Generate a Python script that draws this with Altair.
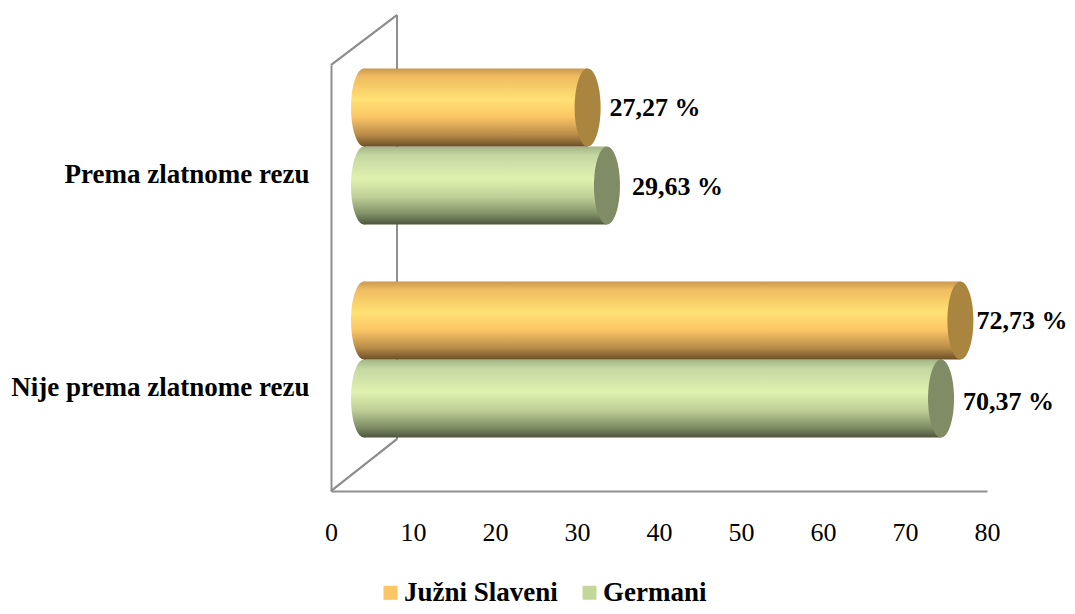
import altair as alt
import pandas as pd

categories = ["Prema zlatnome rezu", "Nije prema zlatnome rezu"]
south_slavs = [27.27, 72.73]
germanic = [29.63, 70.37]
south_labels = ["27,27 %", "72,73 %"]
germanic_labels = ["29,63 %", "70,37 %"]
series_names = ["Južni Slaveni", "Germani"]
legend_colors = ["#fcc566", "#c4d79b"]
x_ticks = [0, 10, 20, 30, 40, 50, 60, 70, 80]

FONT = "Liberation Serif"
GRAY = "#8f8f8f"
ELLIPSE = "M0,-1 A0.3333,1 0 1 1 0,1 A0.3333,1 0 1 1 0,-1 Z"
DEPTH_X = 33
BAR_H = 78


def gradient(stops):
    return alt.Gradient(
        gradient="linear", x1=0, x2=0, y1=0, y2=1,
        stops=[alt.GradientStop(offset=o, color=c) for o, c in stops],
    )


orange_grad = gradient([(0, "#c79a50"), (0.1, "#f0bb60"), (0.4, "#ffe173"), (0.62, "#fcc666"),
                        (0.85, "#b98c48"), (1, "#6b4f26")])
green_grad = gradient([(0, "#a3b585"), (0.12, "#c6d8a2"), (0.42, "#dff2af"), (0.65, "#bfcf97"),
                       (0.87, "#7f8e65"), (1, "#4c563c")])

df_o = pd.DataFrame({"cat": categories, "val": south_slavs, "lab": south_labels, "zero": [0, 0]})
df_g = pd.DataFrame({"cat": categories, "val": germanic, "lab": germanic_labels, "zero": [0, 0]})
df_leg = pd.DataFrame({"s": series_names, "val": [0, 0], "cat": categories})

x_axis = alt.Axis(values=x_ticks, title=None, grid=False, ticks=False, domainColor=GRAY, domainWidth=2,
                  labelFont=FONT, labelFontSize=26, labelColor="#000000", labelPadding=41, labelAngle=0,
                  labelBaseline="middle", labelOverlap=False, labelFlush=False, labelBound=False)
x_scale = alt.Scale(domain=[0, 80], nice=False)
x_enc = alt.X("val:Q", scale=x_scale, axis=x_axis)
y_enc = alt.Y(
    "cat:N",
    sort=categories,
    scale=alt.Scale(domain=categories, paddingInner=0, paddingOuter=0),
    axis=alt.Axis(title=None, grid=False, ticks=False, domainColor=GRAY, domainWidth=2, labelFont=FONT,
                  labelFontSize=27, labelFontWeight="bold", labelColor="#000000", labelPadding=22, labelLimit=400,
                  labelOffset=3),
)
x0 = alt.X("zero:Q", scale=x_scale, axis=x_axis)


def wall(x, x2, y, y2):
    return alt.Chart(df_leg).mark_rule(color=GRAY, strokeWidth=2).encode(
        x=alt.value(x), x2=alt.value(x2), y=alt.value(y), y2=alt.value(y2))


def label(df, dx, dy):
    return alt.Chart(df).mark_text(align="left", baseline="middle", font=FONT, fontSize=26, fontWeight="bold",
                                   color="#000000", xOffset=dx, yOffset=dy).encode(x=x_enc, y=y_enc, text="lab:N")


def cylinder(df, grad, cap, dy):
    left = alt.Chart(df).mark_point(shape=ELLIPSE, size=(BAR_H ** 2), filled=True, fill=grad, opacity=1,
                                    strokeWidth=0, xOffset=DEPTH_X, yOffset=dy).encode(x=x0, y=y_enc)
    body = alt.Chart(df).mark_bar(height=BAR_H, fill=grad, xOffset=DEPTH_X, x2Offset=DEPTH_X, yOffset=dy,
                                  y2Offset=dy, stroke=None).encode(x=x_enc, y=y_enc)
    end = alt.Chart(df).mark_point(shape=ELLIPSE, size=(BAR_H ** 2), filled=True, fill=cap, opacity=1,
                                   strokeWidth=0, xOffset=DEPTH_X, yOffset=dy).encode(x=x_enc, y=y_enc)
    return [left, body, end]


legend_layer = alt.Chart(df_leg).mark_point(filled=True, size=0, shape="square").encode(
    x=x_enc, y=y_enc,
    color=alt.Color("s:N", scale=alt.Scale(domain=series_names, range=legend_colors),
                    legend=alt.Legend(title=None, orient="none", direction="horizontal", legendX=46, legendY=514,
                                      symbolType="square", symbolSize=196, symbolOpacity=1, symbolStrokeWidth=0,
                                      labelFont=FONT, labelFontSize=27, labelFontWeight="bold", labelColor="#000000",
                                      columnPadding=18, labelOffset=0, labelLimit=300)),
)

layers = (
    [wall(66, 66, -50, 374), wall(0, 66, 0, -50), wall(0, 66, 426, 374), legend_layer]
    + cylinder(df_g, green_grad, "#7f8c65", 14)
    + cylinder(df_o, orange_grad, "#a9853f", -64)
    + [label(df_g.iloc[[0]], 58, 15), label(df_g.iloc[[1]], 55, 17),
       label(df_o.iloc[[0]], 55, -64), label(df_o.iloc[[1]], 49, -64)]
)

chart = alt.layer(*layers).resolve_scale(x="shared", y="shared").properties(
    width=656, height=426,
    padding={"left": 323, "top": 57, "right": 80, "bottom": 115},
    autosize=alt.AutoSizeParams(type="none"),
    background="#ffffff",
).configure_view(stroke=None)

chart.save("out.html", embed_options={"renderer": "svg", "actions": False})
